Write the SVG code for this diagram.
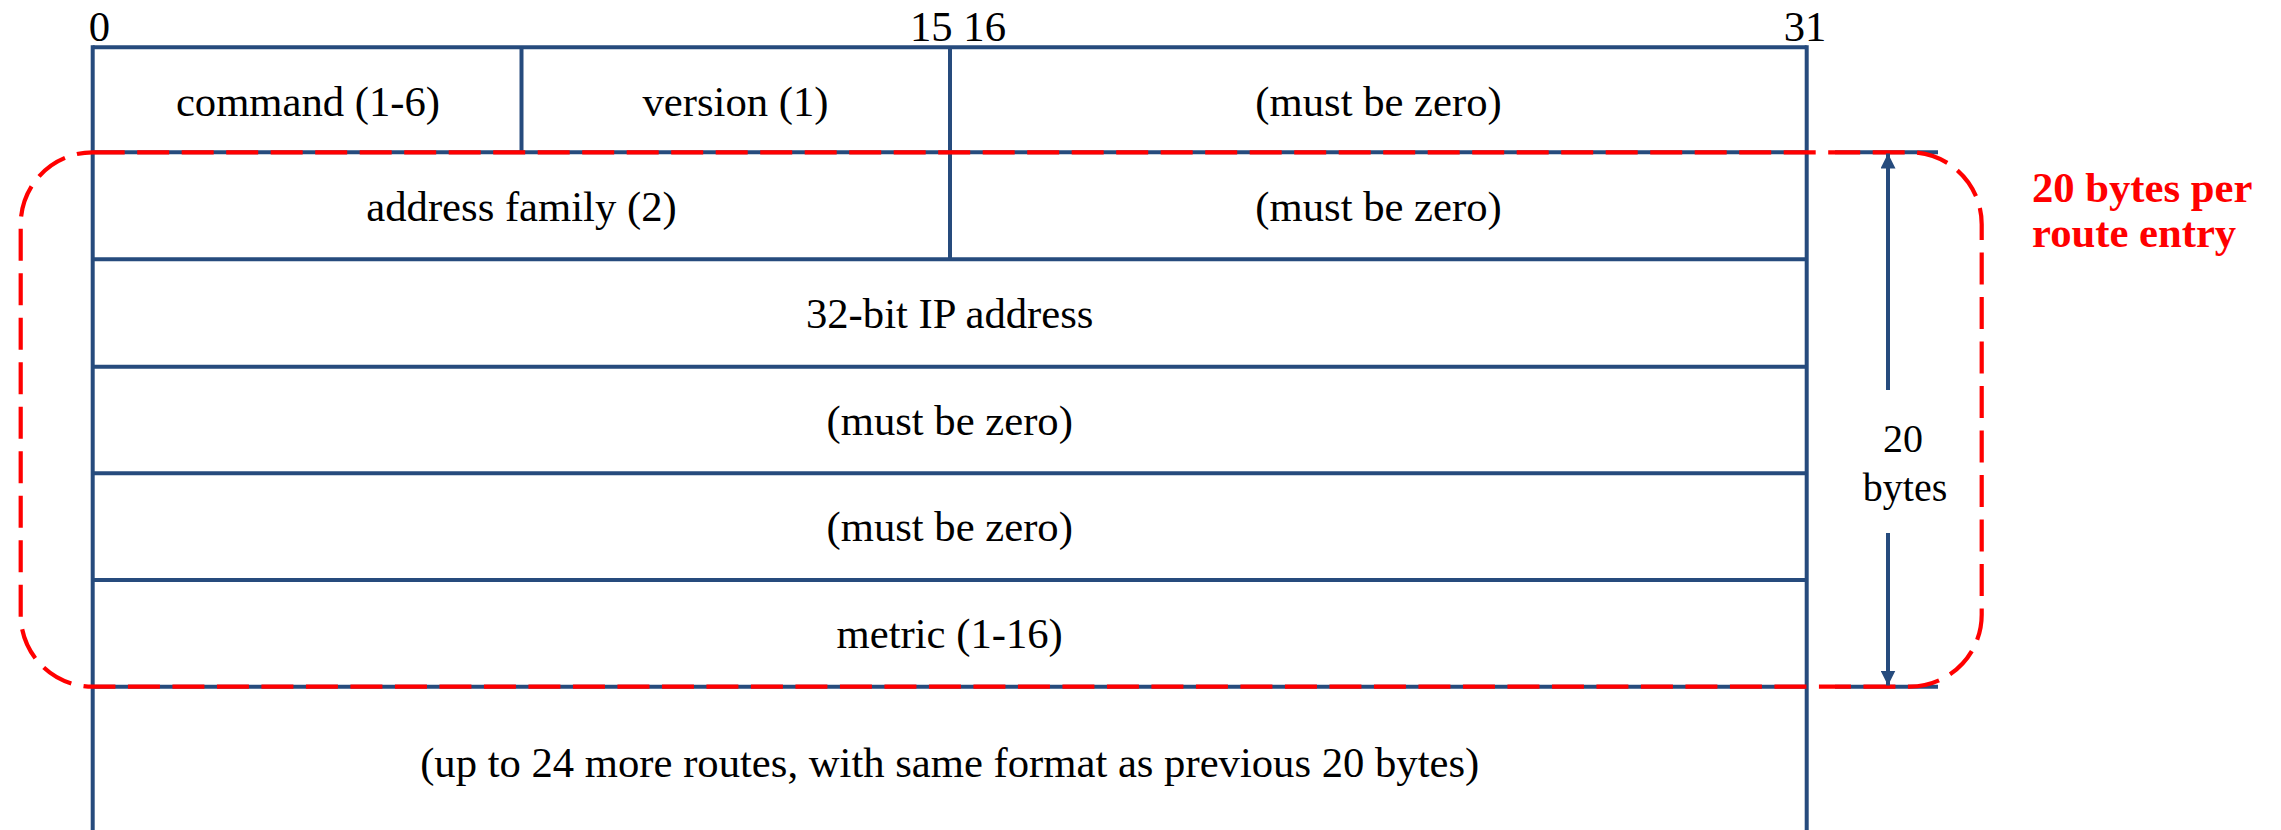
<svg xmlns="http://www.w3.org/2000/svg" width="2281" height="830" viewBox="0 0 2281 830">
  <style>
    .grid { stroke: #264b7d; stroke-width: 4; fill: none; stroke-linecap: butt; }
    .lbl { font-size: 42.67px; fill: #000; text-anchor: middle; }
    .bit { font-size: 42.67px; fill: #000; }
    .dim { font-size: 40px; fill: #000; text-anchor: middle; }
    .note { font-size: 42.67px; font-weight: bold; fill: #ff0000; }
    .bracket { stroke: #ff0000; stroke-width: 4.2; fill: none; stroke-dasharray: 32 12.5; }
  </style>
  <defs>
    <marker id="head" viewBox="0 0 10 10" refX="10" refY="5" markerWidth="15" markerHeight="15" markerUnits="userSpaceOnUse" orient="auto">
      <path d="M0,0 L10,5 L0,10 Z" fill="#264b7d"/>
    </marker>
  </defs>

  <rect x="0" y="0" width="2281" height="830" fill="#ffffff"/>

  <g font-family="Liberation Serif, Tinos, Times New Roman, Times, DejaVu Serif, serif">
  <!-- bit position scale -->
  <g id="bit-scale">
    <text class="bit" x="99.5" y="40.5" text-anchor="middle">0</text>
    <text class="bit" x="910" y="40.5">15 16</text>
    <text class="bit" x="1805" y="40.5" text-anchor="middle">31</text>
  </g>

  <!-- outer frame and row separators -->
  <g id="frame" class="grid">
    <line x1="92.7" y1="47.3" x2="1806.7" y2="47.3"/>
    <line x1="92.7" y1="45.3" x2="92.7" y2="830"/>
    <line x1="1806.7" y1="45.3" x2="1806.7" y2="830"/>
    <line x1="521.5" y1="47.3" x2="521.5" y2="152.3"/>
    <line x1="950" y1="47.3" x2="950" y2="259.3"/>
    <line x1="92.7" y1="152.3" x2="1806.7" y2="152.3"/>
    <line x1="92.7" y1="259.3" x2="1806.7" y2="259.3"/>
    <line x1="92.7" y1="366.7" x2="1806.7" y2="366.7"/>
    <line x1="92.7" y1="473.3" x2="1806.7" y2="473.3"/>
    <line x1="92.7" y1="580" x2="1806.7" y2="580"/>
    <line x1="92.7" y1="686.7" x2="1806.7" y2="686.7"/>
    <!-- extension lines for the size dimension -->
    <line x1="1835" y1="152.3" x2="1938" y2="152.3"/>
    <line x1="1835" y1="686.7" x2="1938" y2="686.7"/>
  </g>

  <!-- header fields -->
  <g id="field-command"><text class="lbl" x="308" y="115.5">command (1-6)</text></g>
  <g id="field-version"><text class="lbl" x="735.5" y="115.5">version (1)</text></g>
  <g id="field-zero-header"><text class="lbl" x="1378.5" y="115.5">(must be zero)</text></g>

  <!-- route entry fields -->
  <g id="field-address-family"><text class="lbl" x="521.5" y="220.5">address family (2)</text></g>
  <g id="field-zero-1"><text class="lbl" x="1378.5" y="220.5">(must be zero)</text></g>
  <g id="field-ip-address"><text class="lbl" x="949.7" y="327.5">32-bit IP address</text></g>
  <g id="field-zero-2"><text class="lbl" x="949.7" y="434.5">(must be zero)</text></g>
  <g id="field-zero-3"><text class="lbl" x="949.7" y="541">(must be zero)</text></g>
  <g id="field-metric"><text class="lbl" x="949.7" y="648">metric (1-16)</text></g>
  <g id="field-more-routes"><text class="lbl" x="949.7" y="777">(up to 24 more routes, with same format as previous 20 bytes)</text></g>

  <!-- dashed outline around one route entry -->
  <g id="route-entry-outline">
    <path class="bracket" d="M92.7,152.3 H1909.7 A72,72 0 0 1 1981.7,224.3 V614.7 A72,72 0 0 1 1909.7,686.7 H92.7 A72,72 0 0 1 20.7,614.7 V224.3 A72,72 0 0 1 92.7,152.3 Z"/>
  </g>

  <g id="route-entry-note">
    <text class="note" x="2032" y="202">20 bytes per</text>
    <text class="note" x="2032" y="247">route entry</text>
  </g>

  <!-- size dimension arrow -->
  <g id="connectors" class="grid">
    <line x1="1888" y1="390" x2="1888" y2="153.5" marker-end="url(#head)"/>
    <line x1="1888" y1="533" x2="1888" y2="685.5" marker-end="url(#head)"/>
  </g>
  <g id="size-label">
    <text class="dim" x="1903" y="451.5">20</text>
    <text class="dim" x="1905" y="500.5">bytes</text>
  </g>
  </g>
</svg>
